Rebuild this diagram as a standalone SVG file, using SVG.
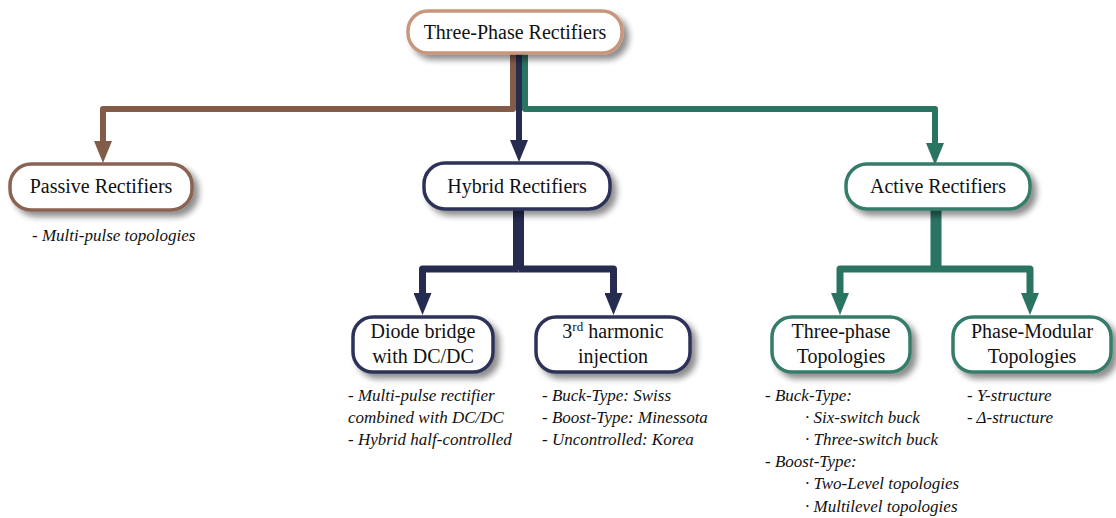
<svg xmlns="http://www.w3.org/2000/svg" width="1116" height="518" viewBox="0 0 1116 518">
  <defs>
    <filter id="shadow" x="-20%" y="-40%" width="150%" height="200%">
      <feGaussianBlur in="SourceAlpha" stdDeviation="3"/>
      <feOffset dx="5" dy="5" result="blur"/>
      <feComponentTransfer><feFuncA type="linear" slope="0.45"/></feComponentTransfer>
      <feMerge><feMergeNode/><feMergeNode in="SourceGraphic"/></feMerge>
    </filter>
    <marker id="head-brown" viewBox="0 0 22 18" refX="0" refY="9" markerWidth="22" markerHeight="18" markerUnits="userSpaceOnUse" orient="auto">
      <path d="M0,0 L22,9 L0,18 z" fill="#835c49"/>
    </marker>
    <marker id="head-navy" viewBox="0 0 22 18" refX="0" refY="9" markerWidth="22" markerHeight="18" markerUnits="userSpaceOnUse" orient="auto">
      <path d="M0,0 L22,9 L0,18 z" fill="#262b50"/>
    </marker>
    <marker id="head-green" viewBox="0 0 22 18" refX="0" refY="9" markerWidth="22" markerHeight="18" markerUnits="userSpaceOnUse" orient="auto">
      <path d="M0,0 L22,9 L0,18 z" fill="#2a7462"/>
    </marker>
  </defs>
  <style>
    .box { fill: #ffffff; stroke-width: 3.5; filter: url(#shadow); }
    text { font-family: "Liberation Serif", "Times New Roman", serif; fill: #111111; }
    .label { font-size: 20px; text-anchor: middle; }
    .note { font-size: 17px; font-style: italic; }
    .wire { fill: none; stroke-linejoin: round; stroke-linecap: butt; }
    .brown { stroke: #835c49; }
    .navy { stroke: #262b50; }
    .green { stroke: #2a7462; }
  </style>

  <rect width="1116" height="518" fill="#ffffff"/>

  <!-- connectors -->
  <g id="connectors">
    <path class="wire brown" stroke-width="6" d="M513,54 V109 H103 V141" marker-end="url(#head-brown)"/>
    <path class="wire green" stroke-width="6" d="M525,54 V109 H935 V143" marker-end="url(#head-green)"/>
    <path class="wire navy" stroke-width="6" d="M519,54 V140" marker-end="url(#head-navy)"/>

    <path class="wire navy" stroke-width="11" d="M518.5,210 V270"/>
    <path class="wire navy" stroke-width="7" d="M518.5,269 H422.5 V293" marker-end="url(#head-navy)"/>
    <path class="wire navy" stroke-width="7" d="M518.5,269 H613.5 V293" marker-end="url(#head-navy)"/>

    <path class="wire green" stroke-width="11" d="M936,210 V270"/>
    <path class="wire green" stroke-width="7" d="M936,269 H840 V293" marker-end="url(#head-green)"/>
    <path class="wire green" stroke-width="7" d="M936,269 H1030 V293" marker-end="url(#head-green)"/>
  </g>

  <g id="node-root">
    <rect class="box" x="408" y="11" width="214" height="42" rx="20" stroke="#c8967b"/>
    <text class="label" x="515" y="39">Three-Phase Rectifiers</text>
  </g>

  <g id="node-passive">
    <rect class="box" x="10" y="164" width="182" height="46" rx="21" stroke="#8a6352"/>
    <text class="label" x="101" y="193">Passive Rectifiers</text>
    <text class="note" x="32" y="241">- Multi-pulse topologies</text>
  </g>

  <g id="node-hybrid">
    <rect class="box" x="424" y="163" width="186" height="46" rx="21" stroke="#2d3359"/>
    <text class="label" x="517" y="193">Hybrid Rectifiers</text>
  </g>

  <g id="node-active">
    <rect class="box" x="846" y="164" width="184" height="45" rx="21" stroke="#367d6a"/>
    <text class="label" x="938" y="193">Active Rectifiers</text>
  </g>

  <g id="node-diode">
    <rect class="box" x="353" y="317" width="140" height="55" rx="20" stroke="#2d3359"/>
    <text class="label" x="423" y="338">Diode bridge</text>
    <text class="label" x="423" y="363">with DC/DC</text>
    <text class="note" x="348" y="401">- Multi-pulse rectifier</text>
    <text class="note" x="348" y="423">combined with DC/DC</text>
    <text class="note" x="348" y="445">- Hybrid half-controlled</text>
  </g>

  <g id="node-harmonic">
    <rect class="box" x="536" y="317" width="154" height="55" rx="20" stroke="#2d3359"/>
    <text class="label" x="613" y="338">3<tspan font-size="13" dy="-7">rd</tspan><tspan dy="7"> harmonic</tspan></text>
    <text class="label" x="613" y="363">injection</text>
    <text class="note" x="542" y="401">- Buck-Type: Swiss</text>
    <text class="note" x="542" y="423">- Boost-Type: Minessota</text>
    <text class="note" x="542" y="445">- Uncontrolled: Korea</text>
  </g>

  <g id="node-threephase">
    <rect class="box" x="772" y="317" width="138" height="55" rx="20" stroke="#367d6a"/>
    <text class="label" x="841" y="338">Three-phase</text>
    <text class="label" x="841" y="363">Topologies</text>
    <text class="note" x="765" y="401">- Buck-Type:</text>
    <text class="note" x="805" y="423">· Six-switch buck</text>
    <text class="note" x="805" y="445">· Three-switch buck</text>
    <text class="note" x="765" y="467">- Boost-Type:</text>
    <text class="note" x="805" y="489">· Two-Level topologies</text>
    <text class="note" x="805" y="512">· Multilevel topologies</text>
  </g>

  <g id="node-modular">
    <rect class="box" x="953" y="317" width="158" height="55" rx="20" stroke="#367d6a"/>
    <text class="label" x="1032" y="338">Phase-Modular</text>
    <text class="label" x="1032" y="363">Topologies</text>
    <text class="note" x="967" y="401">- Y-structure</text>
    <text class="note" x="967" y="423">- Δ-structure</text>
  </g>
</svg>
